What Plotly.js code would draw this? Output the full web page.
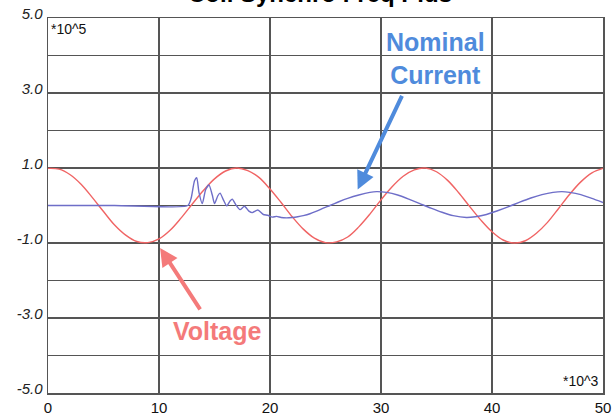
<!DOCTYPE html>
<html>
<head>
<meta charset="utf-8">
<script src="https://cdn.plot.ly/plotly-3.0.1.min.js"></script>
<style>html,body{margin:0;padding:0;background:#fff;}#chart{width:615px;height:413px;}</style>
</head>
<body>
<div id="chart"></div>
<script>
// Time axis (x 10^3) and values (x 10^5)
var voltageX = [0,1,2,3,4,5,6,7,8,9,10,11,12,13,14,15,16,17,18,19,20,21,22,23,24,25,26,27,28,29,30,31,32,33,34,35,36,37,38,39,40,41,42,43,44,45,46,47,48,49,50];
var voltageY = [0.99,0.97,0.82,0.56,0.21,-0.16,-0.52,-0.79,-0.96,-0.99,-0.89,-0.66,-0.33,0.04,0.40,0.71,0.92,1.00,0.93,0.75,0.44,0.08,-0.30,-0.63,-0.87,-0.99,-0.97,-0.84,-0.57,-0.23,0.15,0.50,0.78,0.95,1.00,0.90,0.67,0.34,-0.03,-0.39,-0.70,-0.92,-1.00,-0.94,-0.74,-0.45,-0.08,0.30,0.63,0.87,0.99];

var currentX = [0,6,12.6,12.9,13.2,13.4,13.6,13.9,14.2,14.5,14.8,15.0,15.3,15.5,15.8,16.1,16.4,16.6,16.9,17.3,17.7,18.1,18.4,18.9,19.4,19.8,20.2,20.6,21.0,21.5,22.0,22.5,23.0,23.6,24.2,24.8,25.4,26.2,27,28,29,29.6,30.5,31.5,32.5,33.5,34.5,35.5,36.5,37.7,38.5,39.5,40.5,41.5,42.5,43.5,44.5,45.5,46.3,47,48,49,50];
var currentY = [0,0,0,0.2,0.66,0.74,0.35,0.05,0.42,0.55,0.28,0.05,0.26,0.33,0.15,-0.01,0.12,0.17,0.03,-0.11,-0.02,-0.15,-0.19,-0.12,-0.24,-0.26,-0.31,-0.29,-0.32,-0.33,-0.32,-0.30,-0.27,-0.22,-0.15,-0.07,0.0,0.1,0.19,0.28,0.35,0.37,0.35,0.28,0.17,0.05,-0.07,-0.18,-0.27,-0.32,-0.30,-0.24,-0.14,-0.03,0.09,0.20,0.29,0.35,0.37,0.35,0.29,0.19,0.08];

var xTickVals = [0,10,20,30,40,50];
var xTickText = ['0','10','20','30','40','50'];
var yTickVals = [-5,-4,-3,-2,-1,0,1,2,3,4,5];
var yTickText = ['-5.0','','-3.0','','-1.0','','1.0','','3.0','','5.0'];

var titleText = 'Coil Synchro Freq Plus';
var xScaleText = '*10^3';
var yScaleText = '*10^5';
var currentLabel = 'Nominal<br>Current';
var voltageLabel = 'Voltage';

var traces = [
  {x: voltageX, y: voltageY, type: 'scatter', mode: 'lines', name: 'Voltage',
   line: {color: '#f06464', width: 1.4, shape: 'spline', smoothing: 1}},
  {x: currentX, y: currentY, type: 'scatter', mode: 'lines', name: 'Nominal Current',
   line: {color: '#6e6ec8', width: 1.4, shape: 'spline', smoothing: 0.6}}
];

var font = 'Liberation Sans, Arial, sans-serif';
var layout = {
  width: 615, height: 413,
  margin: {l: 48, r: 12, t: 18, b: 20},
  paper_bgcolor: '#ffffff', plot_bgcolor: '#ffffff',
  showlegend: false,
  xaxis: {
    range: [0, 50], tickvals: xTickVals, ticktext: xTickText,
    showgrid: true, gridcolor: '#555555', gridwidth: 1.3,
    zeroline: false, showline: true, mirror: true, linecolor: '#555555', linewidth: 1.5,
    ticks: '', tickfont: {family: font, size: 15, color: '#111111'}, ticklabelstandoff: 0
  },
  yaxis: {
    range: [-5, 5], tickvals: yTickVals, ticktext: yTickText,
    showgrid: true, gridcolor: '#555555', gridwidth: 1.3,
    zeroline: false, showline: true, mirror: true, linecolor: '#555555', linewidth: 1.5,
    ticks: '', tickfont: {family: font, size: 15, color: '#222222', style: 'italic'},
    ticklabelshift: -4, ticklabelstandoff: 1
  },
  annotations: [
    {xref: 'paper', yref: 'paper', x: 0.49, y: 1.025, xanchor: 'center', yanchor: 'bottom',
     text: '<b>' + titleText + '</b>', showarrow: false, font: {family: font, size: 24, color: '#000000'}},
    {xref: 'paper', yref: 'paper', x: 0, y: 1, xanchor: 'left', yanchor: 'top', xshift: 1, yshift: -1,
     text: yScaleText, showarrow: false, font: {family: font, size: 14, color: '#111111'}},
    {xref: 'paper', yref: 'paper', x: 1, y: 0, xanchor: 'right', yanchor: 'bottom', xshift: -2, yshift: 2,
     text: xScaleText, showarrow: false, font: {family: font, size: 14, color: '#111111'}},
    {xref: 'x', yref: 'y', x: 34.95, y: 3.91, xanchor: 'center', yanchor: 'middle',
     text: '<b>' + currentLabel + '</b>', showarrow: false, font: {family: font, size: 25, color: '#4f8bdc'}},
    {xref: 'x', yref: 'y', x: 15.3, y: -3.35, xanchor: 'center', yanchor: 'middle',
     text: '<b>' + voltageLabel + '</b>', showarrow: false, font: {family: font, size: 25, color: '#f47a7a'}},
    {xref: 'x', yref: 'y', x: 27.9, y: 0.43, text: '', showarrow: true, axref: 'pixel', ayref: 'pixel',
     ax: 45, ay: -95, arrowhead: 2, arrowsize: 0.9, arrowwidth: 4, arrowcolor: '#4f8bdc', standoff: 0},
    {xref: 'x', yref: 'y', x: 10.1, y: -1.13, text: '', showarrow: true, axref: 'pixel', ayref: 'pixel',
     ax: 41, ay: 63, arrowhead: 2, arrowsize: 0.9, arrowwidth: 4, arrowcolor: '#f47a7a', standoff: 0}
  ]
};

Plotly.newPlot('chart', traces, layout, {displayModeBar: false, staticPlot: true});
</script>
</body>
</html>
